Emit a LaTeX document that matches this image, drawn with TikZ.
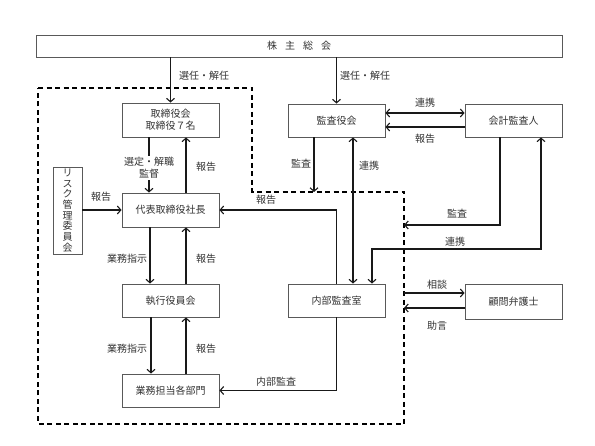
\documentclass[tikz,border=0pt]{standalone}
\usepackage{fontspec}
\setmainfont{Noto Sans CJK JP}
\usetikzlibrary{arrows.meta}
\tikzset{
  box/.style={draw=black!65, line width=0.9pt, fill=white, minimum width=97pt, minimum height=33pt, inner sep=0pt, text=black!80, font=\fontsize{10}{12}\selectfont},
  lbl/.style={inner sep=1pt, text=black!80, font=\fontsize{10}{12}\selectfont},
  conn/.style={line width=1.1pt, black!90},
  arr/.style={conn, -{Straight Barb[length=3.5pt,width=8pt]}},
  arrb/.style={conn, {Straight Barb[length=3.5pt,width=8pt]}-{Straight Barb[length=3.5pt,width=8pt]}},
  bound/.style={line width=1.2pt, dash pattern=on 5pt off 3.5pt, black}
}
\begin{document}
\begin{tikzpicture}[x=1pt,y=-1pt]
\useasboundingbox (0,0) rectangle (595,446);
% dashed boundary
\draw[bound] (38,88) -- (252,88) -- (252,192) -- (404,192) -- (404,424) -- (38,424) -- cycle;
% boxes
\node[box, minimum width=526pt, minimum height=22pt] (sh) at (299,46) {株\hspace{8pt}主\hspace{8pt}総\hspace{8pt}会};
\node[box, minimum height=34pt, align=center] (tori) at (170.5,120) {取締役会\\取締役７名};
\node[box, minimum height=34pt] (dai) at (170.5,210) {代表取締役社長};
\node[box, minimum width=29pt, minimum height=87pt, align=center, font=\fontsize{10}{10.7}\selectfont] (risk) at (67.5,210.5) {リ\\ス\\ク\\管\\理\\委\\員\\会};
\node[box] (shikko) at (170.5,300.5) {執行役員会};
\node[box] (gyomu) at (170.5,390.5) {業務担当各部門};
\node[box] (kansa) at (336.5,120.5) {監査役会};
\node[box] (kaikei) at (513.5,120.5) {会計監査人};
\node[box] (naibu) at (336.5,300.5) {内部監査室};
\node[box, minimum height=35pt] (komon) at (513.5,301.5) {顧問弁護士};
% coordinates on the boundary
\coordinate (d1) at (314,192);
\coordinate (d2) at (404,225);
\coordinate (c1) at (372,249);
\coordinate (d3) at (404,293);
\coordinate (d4) at (404,308);
% shareholders
\draw[arr] (sh.south -| tori.north) -- (tori.north);
\node[lbl, anchor=west] (l1) at (178,76) {選任・解任};
\draw[arr] (sh.south -| kansa.north) -- (kansa.north);
\node[lbl, anchor=west] (l2) at (339,76) {選任・解任};
% board <-> president
\draw[arr] ([xshift=-21.5pt]tori.south) -- ([xshift=-21.5pt]dai.north);
\node[lbl, fill=white, align=center, font=\fontsize{10}{12}\selectfont] (l3) at (149,168) {選定・解職\\監督};
\draw[arr] ([xshift=15.5pt]dai.north) -- ([xshift=15.5pt]tori.south);
\node[lbl] (l4) at (206,167) {報告};
% risk
\draw[arr] (risk.east |- dai.west) -- (dai.west);
\node[lbl] (l5) at (101,197) {報告};
% internal audit -> president
\draw[arr] (naibu.north) |- (dai.east);
\node[lbl] (l6) at (266,200) {報告};
% president <-> executive committee
\draw[arr] ([xshift=-20.5pt]dai.south) -- ([xshift=-20.5pt]shikko.north);
\node[lbl] (l7) at (127,259) {業務指示};
\draw[arr] ([xshift=15.5pt]shikko.north) -- ([xshift=15.5pt]dai.south);
\node[lbl] (l8) at (206,259) {報告};
% executive committee <-> departments
\draw[arr] ([xshift=-19.5pt]shikko.south) -- ([xshift=-19.5pt]gyomu.north);
\node[lbl] (l9) at (127,349) {業務指示};
\draw[arr] ([xshift=15.5pt]gyomu.north) -- ([xshift=15.5pt]shikko.south);
\node[lbl] (l10) at (206,349) {報告};
% internal audit -> departments
\draw[arr] (naibu.south) |- (gyomu.east);
\node[lbl] (l11) at (276,382) {内部監査};
% auditors <-> accounting auditor
\draw[arrb] ([yshift=7.5pt]kansa.east) -- ([yshift=7.5pt]kaikei.west);
\node[lbl] (l12) at (425,103) {連携};
\draw[arr] ([yshift=-6.5pt]kaikei.west) -- ([yshift=-6.5pt]kansa.east);
\node[lbl] (l13) at (425,139) {報告};
% auditors -> boundary, auditors <-> internal audit
\draw[arr] (kansa.south -| d1) -- (d1);
\node[lbl] (l14) at (301,164) {監査};
\draw[arrb] ([xshift=16.5pt]kansa.south) -- ([xshift=16.5pt]naibu.north);
\node[lbl] (l15) at (369,166) {連携};
% accounting auditor
\draw[arr] ([xshift=-13.5pt]kaikei.south) |- (d2);
\node[lbl] (l16) at (457,214) {監査};
\draw[arrb] ([xshift=27.5pt]kaikei.south) |- (c1) -- (c1 |- naibu.north);
\node[lbl] (l17) at (455,242) {連携};
% lawyer
\draw[arr] (d3) -- (d3 -| komon.west);
\node[lbl] (l18) at (437,285) {相談};
\draw[arr] (d4 -| komon.west) -- (d4);
\node[lbl] (l19) at (437,326) {助言};
\end{tikzpicture}
\end{document}
